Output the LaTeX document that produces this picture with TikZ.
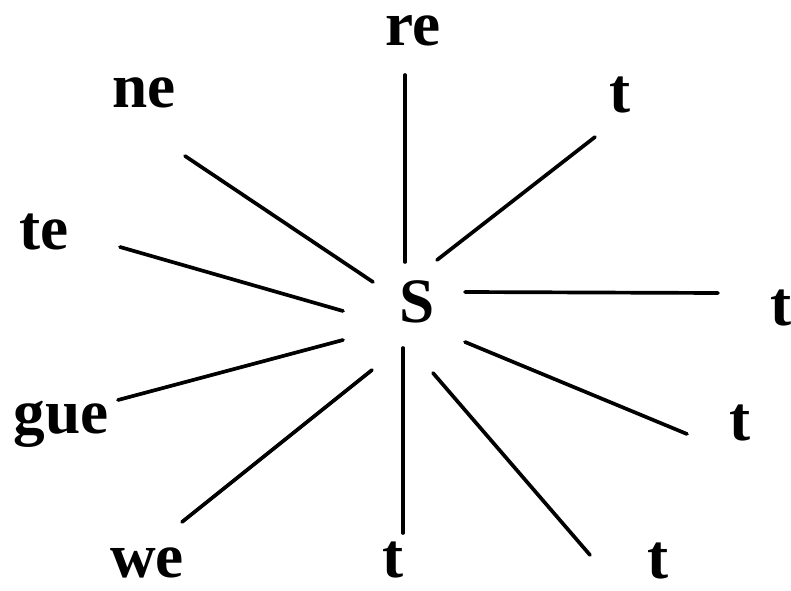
\documentclass[tikz,border=0pt]{standalone}
\usepackage{fontspec}
\setmainfont{Liberation Serif}
\usepackage{tikz}
\tikzset{
  spoke/.style={line width=2.1pt,black,line cap=round},
  lbl/.style={font=\fontsize{36}{40}\bfseries\selectfont,inner sep=0pt,anchor=base}
}

\begin{document}
\begin{tikzpicture}[x=0.02cm,y=-0.02cm]
\useasboundingbox (0,0) rectangle (791,591);
% centre letter
\node[lbl] (s) at (417,322) {S};
% outer syllables
\node[lbl] (re) at (413,46) {re};
\node[lbl] (ne) at (144,108) {ne};
\node[lbl] (tne) at (620,113) {t};
\node[lbl] (te) at (44,250) {te};
\node[lbl] (teast) at (781,325) {t};
\node[lbl] (gue) at (61,433) {gue};
\node[lbl] (tse) at (740,440) {t};
\node[lbl] (we) at (147,577) {we};
\node[lbl] (tsouth) at (393,577) {t};
\node[lbl] (tssw) at (658,578) {t};
% spoke ends
\coordinate (re-in) at (405,262);  \coordinate (re-out) at (405,75);
\coordinate (ne-in) at (373,282);  \coordinate (ne-out) at (185,156);
\coordinate (tne-in) at (437,260); \coordinate (tne-out) at (595,137);
\coordinate (te-in) at (343,311);  \coordinate (te-out) at (120,247);
\coordinate (teast-in) at (465,292); \coordinate (teast-out) at (718,293);
\coordinate (gue-in) at (343,340); \coordinate (gue-out) at (118,400);
\coordinate (tse-in) at (465,342); \coordinate (tse-out) at (687,434);
\coordinate (we-in) at (372,370);  \coordinate (we-out) at (182,522);
\coordinate (tsouth-in) at (403,348); \coordinate (tsouth-out) at (403,533);
\coordinate (tssw-in) at (433,373); \coordinate (tssw-out) at (590,555);
\foreach \n in {re,ne,tne,te,teast,gue,tse,we,tsouth,tssw}
  \draw[spoke] (\n-in) -- (\n-out);
\end{tikzpicture}
\end{document}
